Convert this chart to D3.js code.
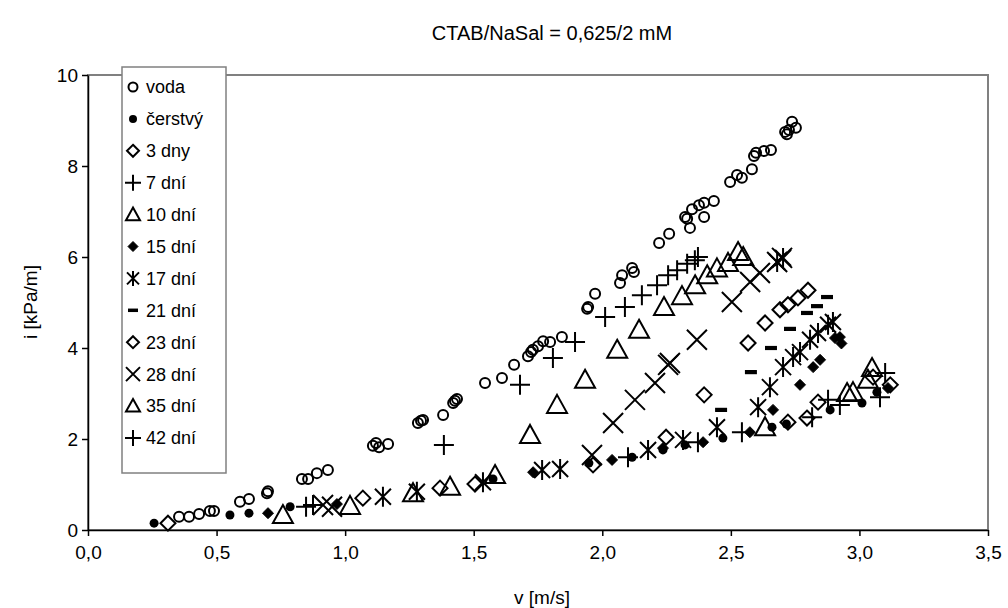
<!DOCTYPE html>
<html>
<head>
<meta charset="utf-8">
<script src="https://cdn.jsdelivr.net/npm/d3@7"></script>
<style>
  body { margin: 0; background: #fff; }
  svg { font-family: "Liberation Sans", Arial, sans-serif; }
</style>
</head>
<body>
<svg id="chart" width="1008" height="608"></svg>
<script>
// popisky serii (legenda)
const names = ["voda", "čerstvý", "3 dny", "7 dní", "10 dní", "15 dní", "17 dní", "21 dní", "23 dní", "28 dní", "35 dní", "42 dní"];
const markers = ["circle", "dot", "diamond", "plus", "triangle", "fdiamond", "asterisk", "dash", "diamond", "cross", "triangle", "plus"];

// data [v (m/s), i (kPa/m)]
const voda = [[0.354,0.29],[0.393,0.29],[0.432,0.35],[0.474,0.42],[0.49,0.42],[0.591,0.62],[0.626,0.68],[0.696,0.81],[0.70,0.85],
  [0.832,1.12],[0.856,1.12],[0.89,1.25],[0.933,1.32],[1.108,1.85],[1.12,1.91],[1.132,1.82],[1.167,1.89],[1.283,2.35],[1.295,2.40],
  [1.303,2.42],[1.381,2.53],[1.42,2.79],[1.427,2.84],[1.435,2.88],[1.544,3.23],[1.61,3.34],[1.657,3.63],[1.711,3.82],[1.723,3.91],
  [1.73,3.96],[1.75,4.04],[1.77,4.15],[1.797,4.13],[1.843,4.24],[1.941,4.86],[1.945,4.90],[1.972,5.19],[2.069,5.43],[2.077,5.60],
  [2.116,5.76],[2.123,5.67],[2.221,6.31],[2.26,6.51],[2.322,6.88],[2.33,6.84],[2.341,6.64],[2.349,7.05],[2.376,7.14],[2.396,6.88],
  [2.396,7.19],[2.434,7.23],[2.497,7.65],[2.524,7.80],[2.543,7.74],[2.582,7.93],[2.59,8.22],[2.598,8.29],[2.629,8.33],[2.656,8.35],
  [2.711,8.75],[2.726,8.79],[2.738,8.97],[2.753,8.84],[2.718,8.70]];
const cerstvy = [[0.257,0.15],[0.552,0.33],[0.626,0.37],[0.786,0.51],[1.575,1.12],[1.948,1.47],[2.116,1.60],[2.236,1.76],[2.322,1.87],
  [2.469,2.02],[2.66,2.26],[2.716,2.33],[2.886,2.64],[3.01,2.79],[3.068,3.03]];
const dny3 = [[0.311,0.15],[1.069,0.70],[1.369,0.92],[1.505,1.01],[1.964,1.43],[2.722,2.37],[2.796,2.46],[2.839,2.81],[3.053,3.36],[3.12,3.19]];
const dni7 = [[0.848,0.51],[0.875,0.55],[2.10,1.60],[2.372,1.93],[2.543,2.15],[2.816,2.48],[2.878,2.86],[2.924,2.75],[3.08,2.92],[3.10,3.45]];
const dni10 = [[0.758,0.33],[1.019,0.53],[1.264,0.81],[1.408,0.95],[1.583,1.21],[2.633,2.26],[2.952,3.01],[2.975,3.03],[3.033,3.30],[3.049,3.56]];
const dni15 = [[0.70,0.37],[0.968,0.57],[1.731,1.27],[2.038,1.54],[2.236,1.80],[2.392,1.93],[2.574,2.15],[2.664,2.64],[2.769,3.19],
  [2.82,3.58],[2.847,3.74],[2.905,4.22],[2.924,4.24],[2.93,4.10],[3.111,3.12]];
const dni17 = [[1.147,0.73],[1.279,0.84],[1.536,1.05],[1.766,1.32],[1.836,1.34],[2.178,1.76],[2.314,1.98],[2.446,2.26],[2.606,2.70],
  [2.652,3.14],[2.703,3.58],[2.742,3.80],[2.769,3.91],[2.808,4.18],[2.839,4.33],[2.878,4.51],[2.897,4.57],[2.68,5.89],[2.703,5.98]];
const dni21 = [[2.462,2.64],[2.578,3.47],[2.656,4.00],[2.73,4.42],[2.796,4.77],[2.835,4.92],[2.874,5.12]];
const dni23 = [[2.248,2.04],[2.396,2.97],[2.567,4.11],[2.633,4.55],[2.691,4.84],[2.722,4.95],[2.761,5.10],[2.80,5.27]];
const dni28 = [[0.914,0.55],[0.949,0.51],[1.96,1.65],[2.042,2.35],[2.127,2.86],[2.205,3.23],[2.256,3.63],[2.263,3.67],[2.368,4.18],
  [2.504,5.01],[2.575,5.45],[2.613,5.65],[2.68,5.89],[2.699,5.98]];
const dni35 = [[1.719,2.09],[1.824,2.75],[1.933,3.30],[2.058,3.96],[2.143,4.40],[2.24,4.90],[2.31,5.14],[2.361,5.38],[2.408,5.60],
  [2.446,5.75],[2.489,5.87],[2.528,6.11],[2.548,6.00]];
const dni42 = [[1.384,1.87],[1.68,3.19],[1.808,3.78],[1.894,4.13],[2.011,4.68],[2.088,4.90],[2.154,5.16],[2.213,5.38],[2.256,5.60],
  [2.291,5.71],[2.33,5.85],[2.36,5.93],[2.372,6.00]];
const seriesData = [voda, cerstvy, dny3, dni7, dni10, dni15, dni17, dni21, dni23, dni28, dni35, dni42];

const xTicks = [0, 0.5, 1, 1.5, 2, 2.5, 3, 3.5];
const yTicks = [0, 2, 4, 6, 8, 10];

const svg = d3.select("#chart");
const margin = { top: 75, right: 20, bottom: 78, left: 88 };
const width = 1008, height = 608;

const x = d3.scaleLinear().domain([0, 3.5]).range([margin.left, width - margin.right]);
const y = d3.scaleLinear().domain([0, 10]).range([height - margin.bottom, margin.top]);

// ramecek plochy grafu
svg.append("rect")
  .attr("x", x(0)).attr("y", y(10))
  .attr("width", x(3.5) - x(0)).attr("height", y(0) - y(10))
  .attr("fill", "none").attr("stroke", "#808080").attr("stroke-width", 2);

// tvar znacky
function markerPath(type, s) {
  switch (type) {
    case "diamond":
    case "fdiamond": return `M0,${-s}L${s},0L0,${s}L${-s},0Z`;
    case "plus": return `M${-s},0H${s}M0,${-s}V${s}`;
    case "triangle": return `M0,${-s}L${s},${s * 0.8}L${-s},${s * 0.8}Z`;
    case "cross": return `M${-s},${-s}L${s},${s}M${-s},${s}L${s},${-s}`;
    case "asterisk": { const a = s * 0.8; return `M${-a},${-a}L${a},${a}M${-a},${a}L${a},${-a}M0,${-s}V${s}`; }
    case "dash": return `M${-s},${-s * 0.35}H${s}V${s * 0.35}H${-s}Z`;
  }
}

function drawMarker(g, type, big) {
  if (type === "circle") {
    g.append("circle").attr("r", big ? 5 : 4.5).attr("fill", "none").attr("stroke", "#000").attr("stroke-width", 2);
  } else if (type === "dot") {
    g.append("circle").attr("r", big ? 4.5 : 4).attr("fill", "#000");
  } else {
    const sizes = { diamond: big ? 7.5 : 6, fdiamond: big ? 5.5 : 5, plus: big ? 10 : 8, triangle: big ? 10 : 7,
      cross: big ? 10 : 7, asterisk: big ? 10 : 7.5, dash: big ? 6 : 5 };
    const filled = type === "fdiamond" || type === "dash";
    g.append("path")
      .attr("d", markerPath(type, sizes[type]))
      .attr("fill", filled ? "#000" : "none")
      .attr("stroke", "#000")
      .attr("stroke-width", filled ? (type === "dash" ? 0 : 1) : 2);
  }
}

// body
seriesData.forEach((data, k) => {
  const g = svg.append("g");
  data.forEach(d => {
    const m = g.append("g").attr("transform", `translate(${x(d[0])},${y(d[1])})`);
    drawMarker(m, markers[k], true);
  });
});

// osa x
svg.append("g")
  .attr("transform", `translate(0,${y(0)})`)
  .call(d3.axisBottom(x).tickValues(xTicks).tickSize(6).tickSizeOuter(0).tickFormat(d => d3.format(".1f")(d).replace(".", ",")))
  .call(g => g.select(".domain").attr("stroke", "#000").attr("stroke-width", 1.5))
  .call(g => g.selectAll(".tick line").attr("stroke", "#000").attr("stroke-width", 1.5))
  .call(g => g.selectAll("text").attr("font-size", 19).attr("fill", "#000").attr("dy", "1.05em")
    .attr("font-family", "'Liberation Sans', Arial, sans-serif"));

// osa y
svg.append("g")
  .attr("transform", `translate(${x(0)},0)`)
  .call(d3.axisLeft(y).tickValues(yTicks).tickSize(6).tickSizeOuter(0))
  .call(g => g.select(".domain").attr("stroke", "#000").attr("stroke-width", 1.5))
  .call(g => g.selectAll(".tick line").attr("stroke", "#000").attr("stroke-width", 1.5))
  .call(g => g.selectAll("text").attr("font-size", 19).attr("fill", "#000").attr("x", -10)
    .attr("font-family", "'Liberation Sans', Arial, sans-serif"));

// titulky
svg.append("text").attr("x", 552).attr("y", 40).attr("text-anchor", "middle")
  .attr("font-size", 20).text("CTAB/NaSal = 0,625/2 mM");
svg.append("text").attr("x", 542).attr("y", 604).attr("text-anchor", "middle")
  .attr("font-size", 19).text("v [m/s]");
svg.append("text").attr("transform", "translate(37,302) rotate(-90)").attr("text-anchor", "middle")
  .attr("font-size", 19).text("i [kPa/m]");

// legenda
const leg = svg.append("g");
leg.append("rect").attr("x", 122).attr("y", 67).attr("width", 104).attr("height", 406)
  .attr("fill", "#fff").attr("stroke", "#808080").attr("stroke-width", 1.5);
names.forEach((n, k) => {
  const yy = 87 + k * 31.9;
  const m = leg.append("g").attr("transform", `translate(133,${yy})`);
  drawMarker(m, markers[k], false);
  leg.append("text").attr("x", 146).attr("y", yy).attr("dy", "0.36em").attr("font-size", 18).text(n);
});
</script>
</body>
</html>
